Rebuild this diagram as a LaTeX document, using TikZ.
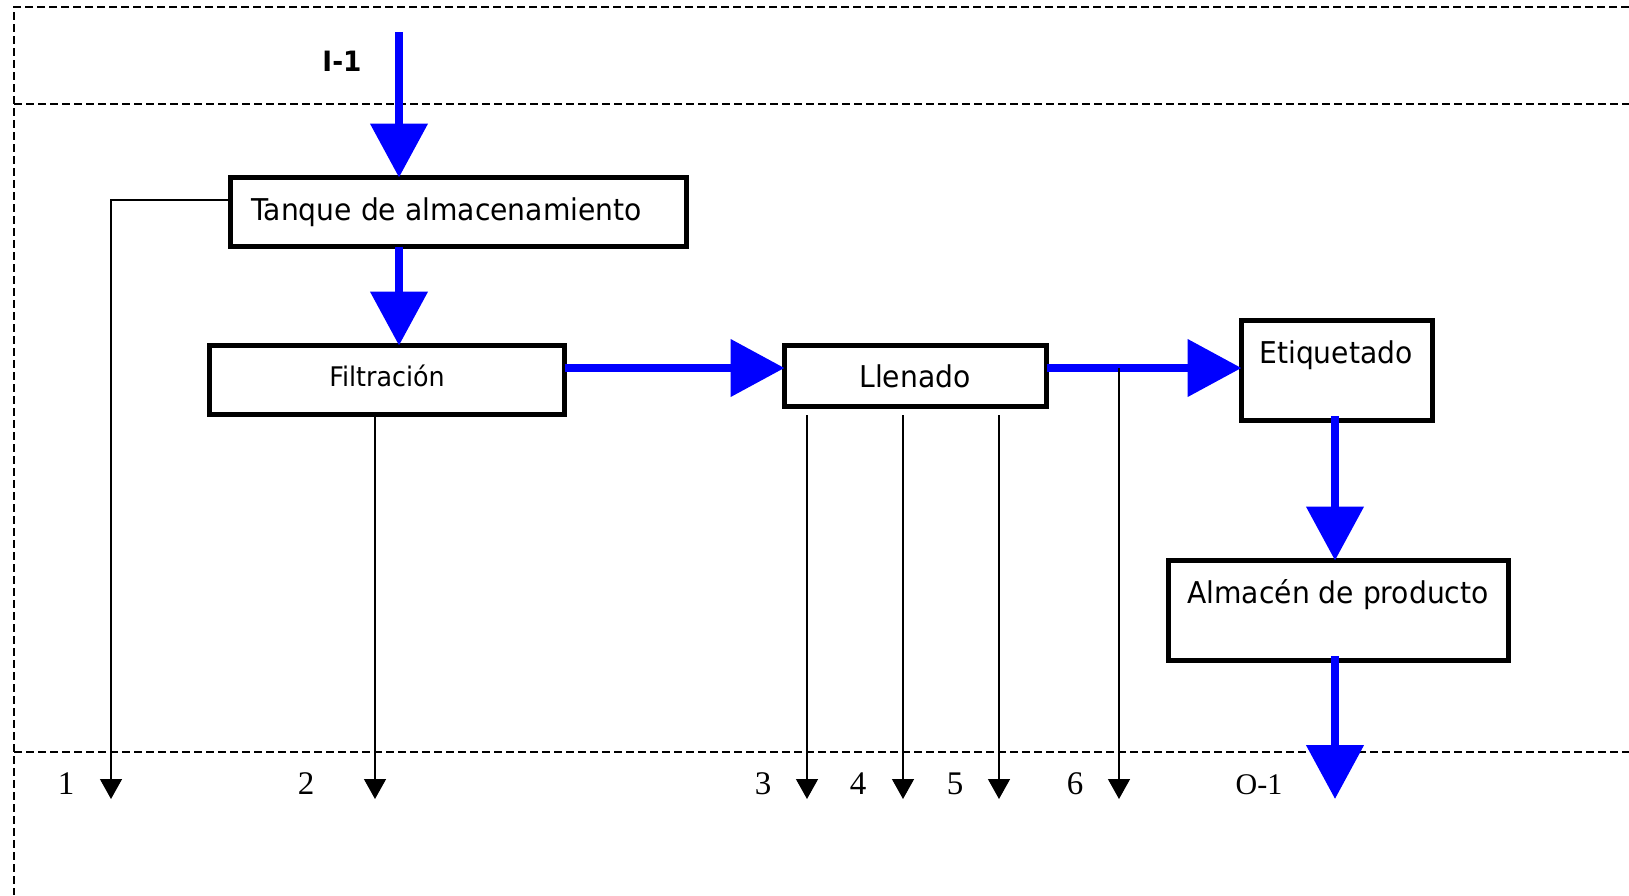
\documentclass[tikz,border=0pt]{standalone}
\usepackage{fontspec}
\setmainfont{DejaVu Sans}[FakeStretch=0.94]
\newfontfamily\numfont{Liberation Serif}
\usetikzlibrary{arrows.meta}
\definecolor{flowblue}{RGB}{0,0,255}
\tikzset{
  procbox/.style={draw=black, line width=5pt, fill=white, inner sep=0pt, outer sep=0pt},
  boxtext/.style={inner sep=0pt, font=\fontsize{30}{36}\selectfont},
  mainflow/.style={draw=flowblue, line width=8pt, -{Triangle[width=56pt,length=54pt]}},
  sideflow/.style={draw=black, line width=1.3pt, -{Triangle[width=22pt,length=20pt]}},
  border/.style={draw=black, line width=1.5pt, dash pattern=on 8pt off 4pt},
  numlab/.style={inner sep=0pt, anchor=base, font=\numfont\fontsize{33}{38}\selectfont}
}
\begin{document}
\begin{tikzpicture}[x=1pt,y=-1pt]
\useasboundingbox (0,0) rectangle (1629,895);
% dashed frame
\coordinate (fTL) at (14,7);
\coordinate (fTR) at (1629,7);
\coordinate (fML) at (14,104);
\coordinate (fMR) at (1629,104);
\coordinate (fBL) at (14,752);
\coordinate (fBR) at (1629,752);
\coordinate (fBot) at (14,895);
\draw[border] (fTR) -- (fTL) -- (fBot);
\draw[border] (fML) -- (fMR);
\draw[border] (fBL) -- (fBR);

% boxes
\node[procbox, minimum width=456pt, minimum height=69pt] (tanque) at (458.5,212) {};
\node[procbox, minimum width=355pt, minimum height=69pt] (filt) at (387,380) {};
\node[procbox, minimum width=262pt, minimum height=61pt] (llen) at (915.5,376) {};
\node[procbox, minimum width=191pt, minimum height=100pt] (etiq) at (1337,370.5) {};
\node[procbox, minimum width=340pt, minimum height=100pt] (almac) at (1338.5,610.5) {};

% box texts
\node[boxtext, anchor=base west] (tanqueT) at (251,220) {Tanque de almacenamiento};
\node[boxtext, anchor=base, font=\fontsize{27}{32}\selectfont] (filtT) at (387,386) {Filtración};
\node[boxtext, anchor=base] (llenT) at (915,387) {Llenado};
\node[boxtext, anchor=base] (etiqT) at (1336,363) {Etiquetado};
\node[boxtext, anchor=base] (almacT) at (1338,603) {Almacén de producto};

% input label
\node[inner sep=0pt, anchor=base, font=\bfseries\fontsize{28}{33}\selectfont] (in1) at (342,71) {I-1};

% main flow coordinates
\coordinate (inTop) at (399,32);
\coordinate (flowY) at (0,368);
\coordinate (etqOut) at (1335,416);
\coordinate (almOut) at (1335,656);
\coordinate (outTip) at (1335,799);

\draw[mainflow] (inTop) -- (inTop |- tanque.north);
\draw[mainflow] (inTop |- tanque.south) -- (inTop |- filt.north);
\draw[mainflow] (filt.east |- flowY) -- (llen.west |- flowY);
\draw[mainflow] (llen.east |- flowY) -- (etiq.west |- flowY);
\draw[mainflow] (etqOut) -- (etqOut |- almac.north);
\draw[mainflow] (almOut) -- (outTip);

% side streams
\coordinate (s1) at (111,200);
\coordinate (s1e) at (111,799);
\coordinate (s2) at (375,799);
\coordinate (s3) at (807,415);
\coordinate (s4) at (903,415);
\coordinate (s5) at (999,415);
\coordinate (s6) at (1119,368);
\coordinate (tipY) at (0,799);

\draw[sideflow] (tanque.west |- s1) -- (s1) -- (s1e);
\draw[sideflow] (s2 |- filt.south) -- (s2);
\draw[sideflow] (s3) -- (s3 |- tipY);
\draw[sideflow] (s4) -- (s4 |- tipY);
\draw[sideflow] (s5) -- (s5 |- tipY);
\draw[sideflow] (s6) -- (s6 |- tipY);

% stream labels
\node[numlab] (l1) at (66,794) {1};
\node[numlab] (l2) at (306,794) {2};
\node[numlab] (l3) at (763,794) {3};
\node[numlab] (l4) at (858,794) {4};
\node[numlab] (l5) at (955,794) {5};
\node[numlab] (l6) at (1075,794) {6};
\node[numlab, font=\numfont\fontsize{30}{35}\selectfont] (lo1) at (1259,794) {O-1};
\end{tikzpicture}
\end{document}
